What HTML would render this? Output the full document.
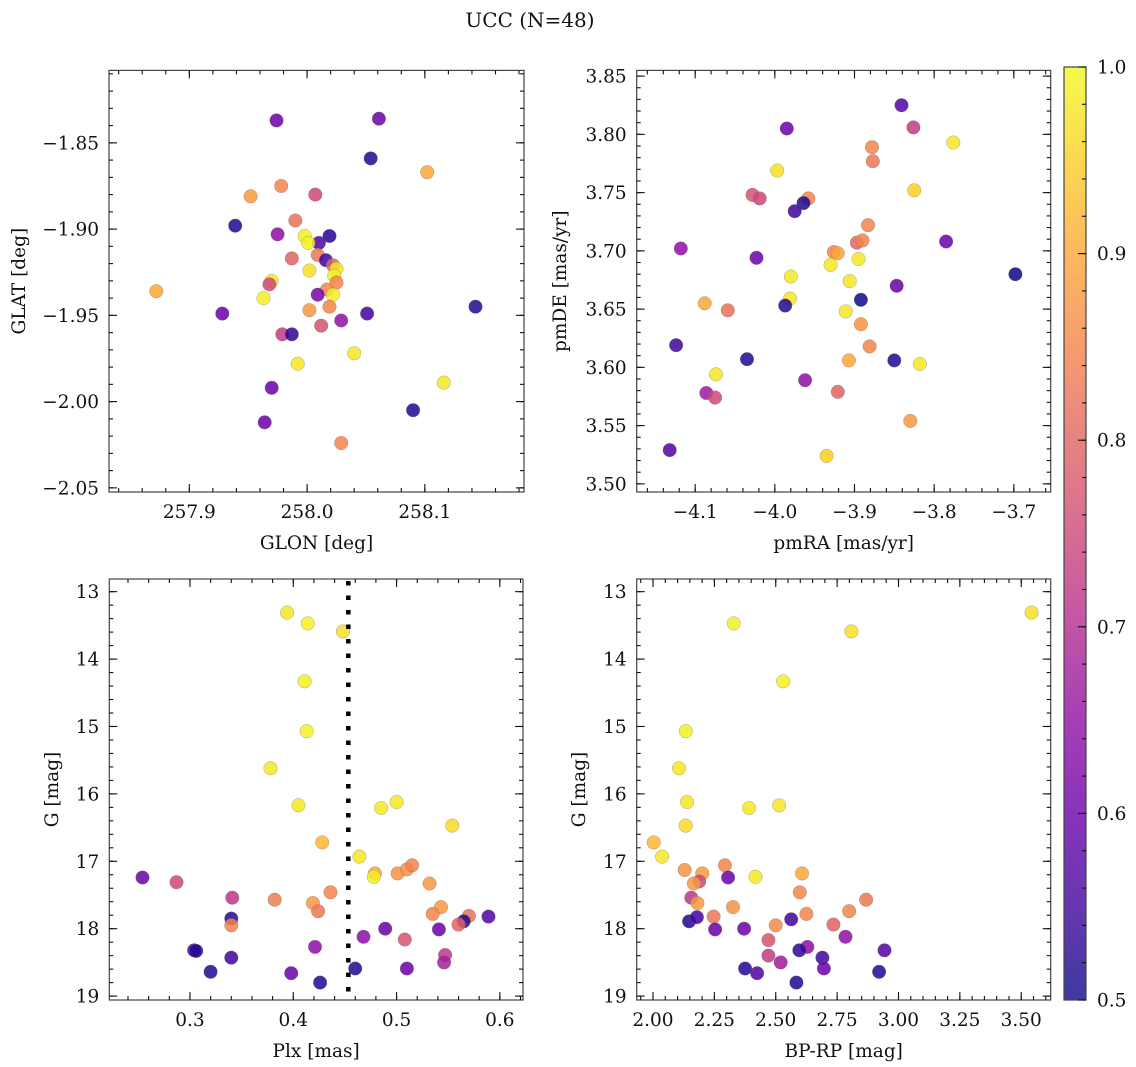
<!DOCTYPE html>
<html><head><meta charset="utf-8">
<style>
html,body{margin:0;padding:0;background:#fff;}
svg{display:block;font-family:"DejaVu Serif","Liberation Serif",serif;}
</style></head>
<body>
<svg id="fig" width="1136" height="1067" viewBox="0 0 1136 1067" xmlns="http://www.w3.org/2000/svg">
<text x="530" y="27" font-size="20" text-anchor="middle" fill="#111">UCC (N=48)</text>
</svg>
<script>
// ---- Panel 1: GLON vs GLAT ----
const glon1 = [257.974,258.061,258.054,258.102,257.978,257.952,258.007,257.939,257.990,257.975,257.998,258.019,258.010,258.001,257.987,258.009,258.016,258.022,258.025,258.002,258.023,257.970,257.968,257.872,257.963,258.025,258.017,258.009,258.022,258.002,258.019,257.928,258.051,258.143,258.029,258.012,257.979,257.987,258.040,257.992,257.970,258.116,258.090,257.964,258.029];
const glat1 = [-1.837,-1.836,-1.859,-1.867,-1.875,-1.881,-1.880,-1.898,-1.895,-1.903,-1.904,-1.904,-1.908,-1.908,-1.917,-1.915,-1.918,-1.921,-1.923,-1.924,-1.927,-1.930,-1.932,-1.936,-1.940,-1.931,-1.935,-1.938,-1.938,-1.947,-1.945,-1.949,-1.949,-1.945,-1.953,-1.956,-1.961,-1.961,-1.972,-1.978,-1.992,-1.989,-2.005,-2.012,-2.024];
const prob1 = [0.6,0.6,0.52,0.9,0.85,0.88,0.75,0.52,0.82,0.65,0.99,0.52,0.57,0.99,0.8,0.83,0.55,0.8,0.98,0.97,0.99,0.98,0.75,0.9,0.99,0.85,0.85,0.62,0.99,0.88,0.85,0.6,0.55,0.52,0.65,0.77,0.73,0.53,0.98,0.98,0.6,0.98,0.52,0.6,0.85];
// ---- Panel 2: pmRA vs pmDE ----
const pmra2 = [-3.841,-3.826,-3.985,-3.776,-3.878,-3.877,-3.997,-3.825,-4.028,-4.019,-3.958,-3.964,-3.975,-3.883,-3.897,-3.890,-4.118,-3.926,-3.921,-3.785,-4.023,-3.895,-3.930,-3.980,-3.906,-3.698,-3.847,-4.088,-4.059,-3.981,-3.987,-3.892,-3.911,-3.892,-3.881,-4.124,-4.035,-3.850,-3.818,-3.907,-4.074,-3.962,-4.086,-4.075,-3.921,-3.830,-4.132,-3.935];
const pmde2 = [3.825,3.806,3.805,3.793,3.789,3.777,3.769,3.752,3.748,3.745,3.745,3.741,3.734,3.722,3.707,3.709,3.702,3.699,3.698,3.708,3.694,3.693,3.688,3.678,3.674,3.680,3.670,3.655,3.649,3.659,3.653,3.658,3.648,3.637,3.618,3.619,3.607,3.606,3.603,3.606,3.594,3.589,3.578,3.574,3.579,3.554,3.529,3.524];
const prob2 = [0.57,0.73,0.6,0.98,0.85,0.83,0.97,0.95,0.77,0.75,0.85,0.52,0.55,0.85,0.8,0.85,0.65,0.85,0.9,0.6,0.6,0.98,0.98,0.98,0.98,0.5,0.6,0.9,0.82,0.98,0.52,0.5,0.98,0.87,0.85,0.55,0.52,0.52,0.98,0.9,0.98,0.65,0.67,0.75,0.8,0.88,0.57,0.95];
// ---- Panel 3: Plx vs G ----
const plx3 = [0.394,0.414,0.448,0.411,0.413,0.378,0.405,0.485,0.500,0.554,0.428,0.464,0.254,0.287,0.479,0.478,0.501,0.510,0.515,0.532,0.341,0.382,0.436,0.419,0.424,0.543,0.535,0.570,0.565,0.560,0.589,0.340,0.340,0.489,0.541,0.468,0.508,0.421,0.547,0.546,0.304,0.306,0.340,0.320,0.398,0.426,0.460,0.510];
const gmag3 = [13.31,13.47,13.59,14.33,15.07,15.62,16.17,16.21,16.12,16.47,16.72,16.93,17.24,17.31,17.18,17.23,17.18,17.12,17.06,17.33,17.54,17.57,17.46,17.62,17.74,17.68,17.78,17.81,17.89,17.94,17.82,17.85,17.95,18.00,18.01,18.12,18.16,18.27,18.39,18.50,18.32,18.33,18.43,18.64,18.66,18.80,18.59,18.59];
const prob3 = [0.98,0.99,0.97,0.99,0.99,0.98,0.98,0.98,0.98,0.96,0.92,0.98,0.6,0.75,0.9,0.99,0.87,0.87,0.85,0.88,0.72,0.84,0.85,0.88,0.83,0.88,0.85,0.82,0.52,0.8,0.57,0.52,0.85,0.6,0.6,0.65,0.77,0.65,0.72,0.68,0.55,0.52,0.55,0.52,0.6,0.52,0.52,0.6];
// ---- Panel 4: BP-RP vs G ----
const bprp4 = [3.542,2.329,2.808,2.530,2.133,2.106,2.139,2.391,2.514,2.133,2.003,2.037,2.129,2.293,2.201,2.607,2.417,2.306,2.188,2.166,2.598,2.156,2.181,2.326,2.868,2.799,2.625,2.247,2.147,2.179,2.563,2.500,2.735,2.253,2.371,2.784,2.470,2.470,2.520,2.629,2.596,2.690,2.696,2.943,2.375,2.424,2.921,2.584];
const gmag4 = [13.31,13.47,13.59,14.33,15.07,15.62,16.12,16.21,16.17,16.47,16.72,16.93,17.13,17.06,17.18,17.18,17.23,17.24,17.30,17.33,17.46,17.54,17.62,17.68,17.57,17.74,17.78,17.82,17.89,17.83,17.86,17.95,17.94,18.01,18.00,18.12,18.17,18.40,18.50,18.27,18.32,18.43,18.59,18.32,18.59,18.66,18.64,18.80];
const prob4 = [0.97,0.99,0.97,0.99,0.99,0.98,0.98,0.98,0.98,0.96,0.92,0.98,0.87,0.85,0.88,0.9,0.98,0.6,0.75,0.88,0.85,0.72,0.88,0.87,0.83,0.85,0.85,0.83,0.52,0.55,0.55,0.86,0.8,0.6,0.6,0.65,0.77,0.73,0.67,0.65,0.53,0.55,0.6,0.57,0.52,0.57,0.52,0.52];
// ---- tick arrays ----
const xticks1 = [257.9,258.0,258.1], xtickLabels1 = ["257.9","258.0","258.1"];
const yticks1 = [-1.85,-1.90,-1.95,-2.00,-2.05], ytickLabels1 = ["\u22121.85","\u22121.90","\u22121.95","\u22122.00","\u22122.05"];
const xticks2 = [-4.1,-4.0,-3.9,-3.8,-3.7], xtickLabels2 = ["\u22124.1","\u22124.0","\u22123.9","\u22123.8","\u22123.7"];
const yticks2 = [3.85,3.80,3.75,3.70,3.65,3.60,3.55,3.50], ytickLabels2 = ["3.85","3.80","3.75","3.70","3.65","3.60","3.55","3.50"];
const xticks3 = [0.3,0.4,0.5,0.6], xtickLabels3 = ["0.3","0.4","0.5","0.6"];
const yticksG = [13,14,15,16,17,18,19], ytickLabelsG = ["13","14","15","16","17","18","19"];
const xticks4 = [2.0,2.25,2.5,2.75,3.0,3.25,3.5], xtickLabels4 = ["2.00","2.25","2.50","2.75","3.00","3.25","3.50"];
const plxCut = [0.4533];
const cbTicks = [0.5,0.6,0.7,0.8,0.9,1.0], cbTickLabels = ["0.5","0.6","0.7","0.8","0.9","1.0"];

const NS = "http://www.w3.org/2000/svg";
const svg = document.getElementById('fig');
const FS = 18.5;
function mk(tag, attrs, parent){ const e=document.createElementNS(NS,tag); for(const k in attrs) e.setAttribute(k,attrs[k]); (parent||svg).appendChild(e); return e; }

const plasma = [[13,8,135],[65,4,157],[106,0,168],[143,13,164],[177,42,144],[204,71,120],[225,100,98],[242,132,75],[252,166,54],[252,206,37],[240,249,33]];
function cmap(p){ let t=(p-0.5)/0.5; t=Math.max(0,Math.min(1,t)); const f=t*10, i=Math.min(9,Math.floor(f)), r=f-i;
  const a=plasma[i], b=plasma[i+1]; return `rgb(${Math.round(a[0]+(b[0]-a[0])*r)},${Math.round(a[1]+(b[1]-a[1])*r)},${Math.round(a[2]+(b[2]-a[2])*r)})`; }

function panel(o){
  const g = mk('g',{});
  
  
  const sx = v => o.box[0] + (v-o.xlim[0])/(o.xlim[1]-o.xlim[0])*(o.box[2]-o.box[0]);
  const sy = v => o.box[1] + (v-o.ylim[0])/(o.ylim[1]-o.ylim[0])*(o.box[3]-o.box[1]);
  const pg = mk('g',{},g);
  
  
  for(let i=0;i<o.xs.length;i++){
    const c = mk('circle',{cx:sx(o.xs[i]).toFixed(1),cy:sy(o.ys[i]).toFixed(1),r:6.8,fill:cmap(o.ps[i]),'fill-opacity':0.85,stroke:'#777','stroke-width':0.5,'stroke-opacity':0.6},pg);
    
    
  }
  if(o.vline){ for(const v of o.vline){
    const l = mk('line',{x1:sx(v),x2:sx(v),y1:o.box[1]+2,y2:o.box[3],stroke:'#000','stroke-width':4.5,'stroke-dasharray':'4.5 10'},g);
    
    
  }}
  const fr = mk('rect',{x:o.box[0],y:o.box[1],width:o.box[2]-o.box[0],height:o.box[3]-o.box[1],fill:'none',stroke:'#444','stroke-width':1.2},g);
  
  
  const tk = mk('g',{stroke:'#111','stroke-width':1.1},g);
  const xmn=Math.min(...o.xlim), xmx=Math.max(...o.xlim), ymn=Math.min(...o.ylim), ymx=Math.max(...o.ylim);
  for(let v=Math.ceil(xmn/o.xminor-1e-6)*o.xminor; v<=xmx+1e-9; v+=o.xminor){ const x=sx(v);
    mk('line',{x1:x,x2:x,y1:o.box[3],y2:o.box[3]-4},tk); mk('line',{x1:x,x2:x,y1:o.box[1],y2:o.box[1]+4},tk); }
  for(let v=Math.ceil(ymn/o.yminor-1e-6)*o.yminor; v<=ymx+1e-9; v+=o.yminor){ const y=sy(v);
    mk('line',{x1:o.box[0],x2:o.box[0]+4,y1:y,y2:y},tk); mk('line',{x1:o.box[2],x2:o.box[2]-4,y1:y,y2:y},tk); }
  o.xt.forEach((v,i)=>{ const x=sx(v);
    mk('line',{x1:x,x2:x,y1:o.box[3],y2:o.box[3]-8},tk); mk('line',{x1:x,x2:x,y1:o.box[1],y2:o.box[1]+8},tk);
    const t=mk('text',{x:x,y:o.box[3]+26,'font-size':FS,'text-anchor':'middle',fill:'#111'},g); t.textContent=o.xtl[i];
    
    
  });
  o.yt.forEach((v,i)=>{ const y=sy(v);
    mk('line',{x1:o.box[0],x2:o.box[0]+8,y1:y,y2:y},tk); mk('line',{x1:o.box[2],x2:o.box[2]-8,y1:y,y2:y},tk);
    const t=mk('text',{x:o.box[0]-10,y:y+6.5,'font-size':FS,'text-anchor':'end',fill:'#111'},g); t.textContent=o.ytl[i];
    
    
  });
  const xl=mk('text',{x:(o.box[0]+o.box[2])/2,y:o.box[3]+57,'font-size':FS,'text-anchor':'middle',fill:'#111'},g); xl.textContent=o.xlabel;
  
  
  const yl=mk('text',{x:0,y:0,'font-size':FS,'text-anchor':'middle',fill:'#111',transform:`translate(${o.ylx},${(o.box[1]+o.box[3])/2}) rotate(-90)`},g); yl.textContent=o.ylabel;
  
  
}

panel({name:'glon-glat-panel',box:[109,70.4,524,492],xlim:[257.8318,258.1842],ylim:[-1.8080,-2.0524],xs:glon1,ys:glat1,ps:prob1,
  xt:xticks1,xtl:xtickLabels1,yt:yticks1,ytl:ytickLabels1,xminor:0.02,yminor:0.01,xlabel:'GLON [deg]',ylabel:'GLAT [deg]',ylx:25});
panel({name:'pmra-pmde-panel',box:[636.7,70.4,1050.7,492],xlim:[-4.1734,-3.6537],ylim:[3.8549,3.4930],xs:pmra2,ys:pmde2,ps:prob2,
  xt:xticks2,xtl:xtickLabels2,yt:yticks2,ytl:ytickLabels2,xminor:0.02,yminor:0.01,xlabel:'pmRA [mas/yr]',ylabel:'pmDE [mas/yr]',ylx:566});
panel({name:'plx-g-panel',box:[109.3,579,523,1000],xlim:[0.2219,0.6224],ylim:[12.812,19.058],xs:plx3,ys:gmag3,ps:prob3,vline:plxCut,
  xt:xticks3,xtl:xtickLabels3,yt:yticksG,ytl:ytickLabelsG,xminor:0.02,yminor:0.2,xlabel:'Plx [mas]',ylabel:'G [mag]',ylx:58});
panel({name:'bprp-g-panel',box:[636.7,579,1050.7,1000],xlim:[1.9336,3.6200],ylim:[12.812,19.058],xs:bprp4,ys:gmag4,ps:prob4,
  xt:xticks4,xtl:xtickLabels4,yt:yticksG,ytl:ytickLabelsG,xminor:0.05,yminor:0.2,xlabel:'BP-RP [mag]',ylabel:'G [mag]',ylx:585});

(function(){
  const x0=1064,x1=1086,y0=67,y1=1000;
  const cg=mk('g',{});
  
  
  const defs=mk('defs',{},cg);
  const lg=mk('linearGradient',{id:'cbg',x1:0,y1:1,x2:0,y2:0},defs);
  for(let i=0;i<=20;i++){ mk('stop',{offset:(i/20),'stop-color':cmap(0.5+i/40)},lg); }
  const r=mk('rect',{x:x0,y:y0,width:x1-x0,height:y1-y0,fill:'url(#cbg)','fill-opacity':0.8,stroke:'#444','stroke-width':1.2},cg);
  
  
  const sy=v=>y1-(v-0.5)/0.5*(y1-y0);
  for(let v=0.5;v<=1.0001;v+=0.02){ mk('line',{x1:x1,x2:x1-4,y1:sy(v),y2:sy(v),stroke:'#111','stroke-width':1.1},cg); }
  cbTicks.forEach((v,i)=>{ mk('line',{x1:x1,x2:x1-8,y1:sy(v),y2:sy(v),stroke:'#111','stroke-width':1.1},cg);
    const t=mk('text',{x:x1+11,y:sy(v)+6.5,'font-size':FS,fill:'#111'},cg); t.textContent=cbTickLabels[i];
    
    
  });
})();
</script>
</body></html>
